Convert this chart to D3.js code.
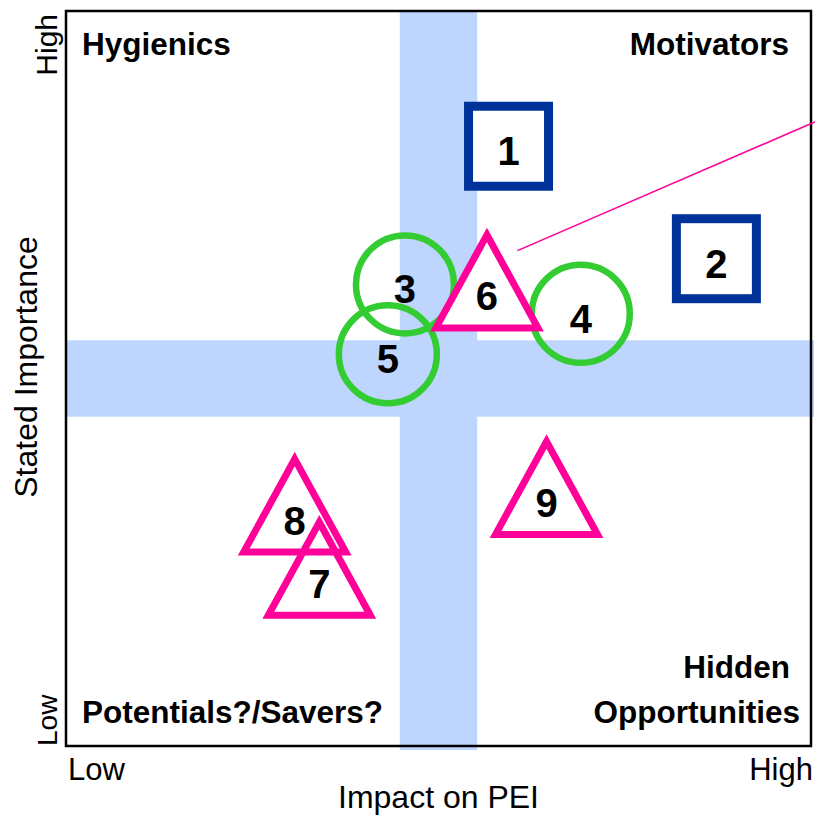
<!DOCTYPE html>
<head>
  <meta charset="utf-8">
  <script src="https://d3js.org/d3.v7.min.js"></script>
  <style>
    body { margin: 0; background: #fff; }
    svg { width: 815px; height: 815px; display: block; }
    text { font-family: "Liberation Sans", Arial, sans-serif; }
  </style>
</head>

<body>
  <svg></svg>
  <script>
    // items on a 0..10 grid (impact, importance)
    var ids = ['1', '2', '3', '4', '5', '6', '7', '8', '9'];
    var shapes = ['square', 'square', 'circle', 'circle', 'circle',
                  'triangle', 'triangle', 'triangle', 'triangle'];
    var impact = [5.94, 8.73, 4.55, 6.91, 4.32, 5.65, 3.40, 3.07, 6.45];
    var importance = [8.16, 6.63, 6.28, 5.88, 5.33, 6.11, 2.20, 3.06, 3.30];

    // quadrant names and the axis end labels
    var quadrantNames = ['Hygienics', 'Motivators', 'Potentials?/Savers?', 'Hidden', 'Opportunities'];
    var tickLow = 'Low', tickHigh = 'High';
    var xTitle = 'Impact on PEI', yTitle = 'Stated Importance';

    // the two "average" bands and the call-out from item 6
    var bandCentre = [5, 5];
    var bandHalf = 0.52;
    var leader = [[6.06, 6.74], [10.05, 8.49]];

    var svg = d3.select('svg');
    var box = {l: 66, r: 811, t: 11, b: 746};

    var x = d3.scaleLinear().domain([0, 10]).range([box.l, box.r]);
    var y = d3.scaleLinear().domain([0, 10]).range([box.b, box.t]);

    var blue = '#bed6fd';
    // vertical band runs a little past the bottom edge, horizontal one past the right
    svg.append('rect')
      .attr('x', x(bandCentre[0] - bandHalf))
      .attr('y', box.t)
      .attr('width', x(bandCentre[0] + bandHalf) - x(bandCentre[0] - bandHalf))
      .attr('height', box.b - box.t + 4)
      .attr('fill', blue);
    svg.append('rect')
      .attr('x', box.l)
      .attr('y', y(bandCentre[1] + bandHalf))
      .attr('width', box.r - box.l + 3)
      .attr('height', y(bandCentre[1] - bandHalf) - y(bandCentre[1] + bandHalf))
      .attr('fill', blue);

    svg.append('rect')
      .attr('x', box.l).attr('y', box.t)
      .attr('width', box.r - box.l).attr('height', box.b - box.t)
      .attr('fill', 'none')
      .attr('stroke', '#000')
      .attr('stroke-width', 2.5);

    var items = ids.map(function(id, i) {
      return {id: id, shape: shapes[i], cx: x(impact[i]), cy: y(importance[i])};
    });

    var g = svg.selectAll('g.item')
      .data(items).enter().append('g')
      .attr('class', 'item')
      .attr('transform', function(d) { return 'translate(' + [d.cx, d.cy] + ')'; });

    g.filter(function(d) { return d.shape === 'square'; })
      .append('rect')
      .attr('x', -40).attr('y', -40)
      .attr('width', 80).attr('height', 80)
      .attr('fill', '#fff')
      .attr('stroke', '#003399')
      .attr('stroke-width', 9);

    g.filter(function(d) { return d.shape === 'circle'; })
      .append('circle')
      .attr('r', 49)
      .attr('fill', 'none')
      .attr('stroke', '#33cc33')
      .attr('stroke-width', 6.5);

    // triangles are white inside, except 7 which sits over 8 and lets it show through
    g.filter(function(d) { return d.shape === 'triangle'; })
      .append('path')
      .attr('d', 'M0,-62L51,31L-51,31Z')
      .attr('fill', function(d) { return d.id === '7' ? 'none' : '#fff'; })
      .attr('stroke', '#ff0099')
      .attr('stroke-width', 7)
      .attr('stroke-linejoin', 'miter');

    g.append('text')
      .attr('text-anchor', 'middle')
      .attr('y', function(d) { return d.shape === 'triangle' ? 13.5 : 19; })
      .attr('font-size', 40)
      .attr('font-weight', 'bold')
      .attr('fill', '#000')
      .text(function(d) { return d.id; });

    g.filter(function(d) { return d.id === '7'; }).raise();

    svg.append('line')
      .attr('x1', x(leader[0][0])).attr('y1', y(leader[0][1]))
      .attr('x2', x(leader[1][0])).attr('y2', y(leader[1][1]))
      .attr('stroke', '#ff0099')
      .attr('stroke-width', 1.6);

    // quadrant names
    var quad = [
      {x: 82, y: 55, anchor: 'start'},
      {x: 789, y: 55, anchor: 'end'},
      {x: 82, y: 723, anchor: 'start'},
      {x: 790, y: 678, anchor: 'end'},
      {x: 800, y: 723, anchor: 'end'}
    ];
    svg.selectAll('text.quad')
      .data(quadrantNames).enter().append('text')
      .attr('class', 'quad')
      .attr('x', function(d, i) { return quad[i].x; })
      .attr('y', function(d, i) { return quad[i].y; })
      .attr('text-anchor', function(d, i) { return quad[i].anchor; })
      .attr('font-size', 31.5)
      .attr('font-weight', 'bold')
      .text(function(d) { return d; });

    // axis end labels and titles
    svg.append('text').attr('x', box.l + 2).attr('y', 780)
      .attr('font-size', 31).text(tickLow);
    svg.append('text').attr('x', 813).attr('y', 780)
      .attr('text-anchor', 'end').attr('font-size', 31).text(tickHigh);
    svg.append('text').attr('x', (box.l + box.r) / 2).attr('y', 808)
      .attr('text-anchor', 'middle').attr('font-size', 32).text(xTitle);

    svg.append('text').attr('transform', 'translate(57,14)rotate(-90)')
      .attr('text-anchor', 'end').attr('font-size', 30).text(tickHigh);
    svg.append('text').attr('transform', 'translate(57,746)rotate(-90)')
      .attr('text-anchor', 'start').attr('font-size', 28).text(tickLow);
    svg.append('text').attr('transform', 'translate(37,367)rotate(-90)')
      .attr('text-anchor', 'middle').attr('font-size', 32).text(yTitle);
  </script>
</body>
